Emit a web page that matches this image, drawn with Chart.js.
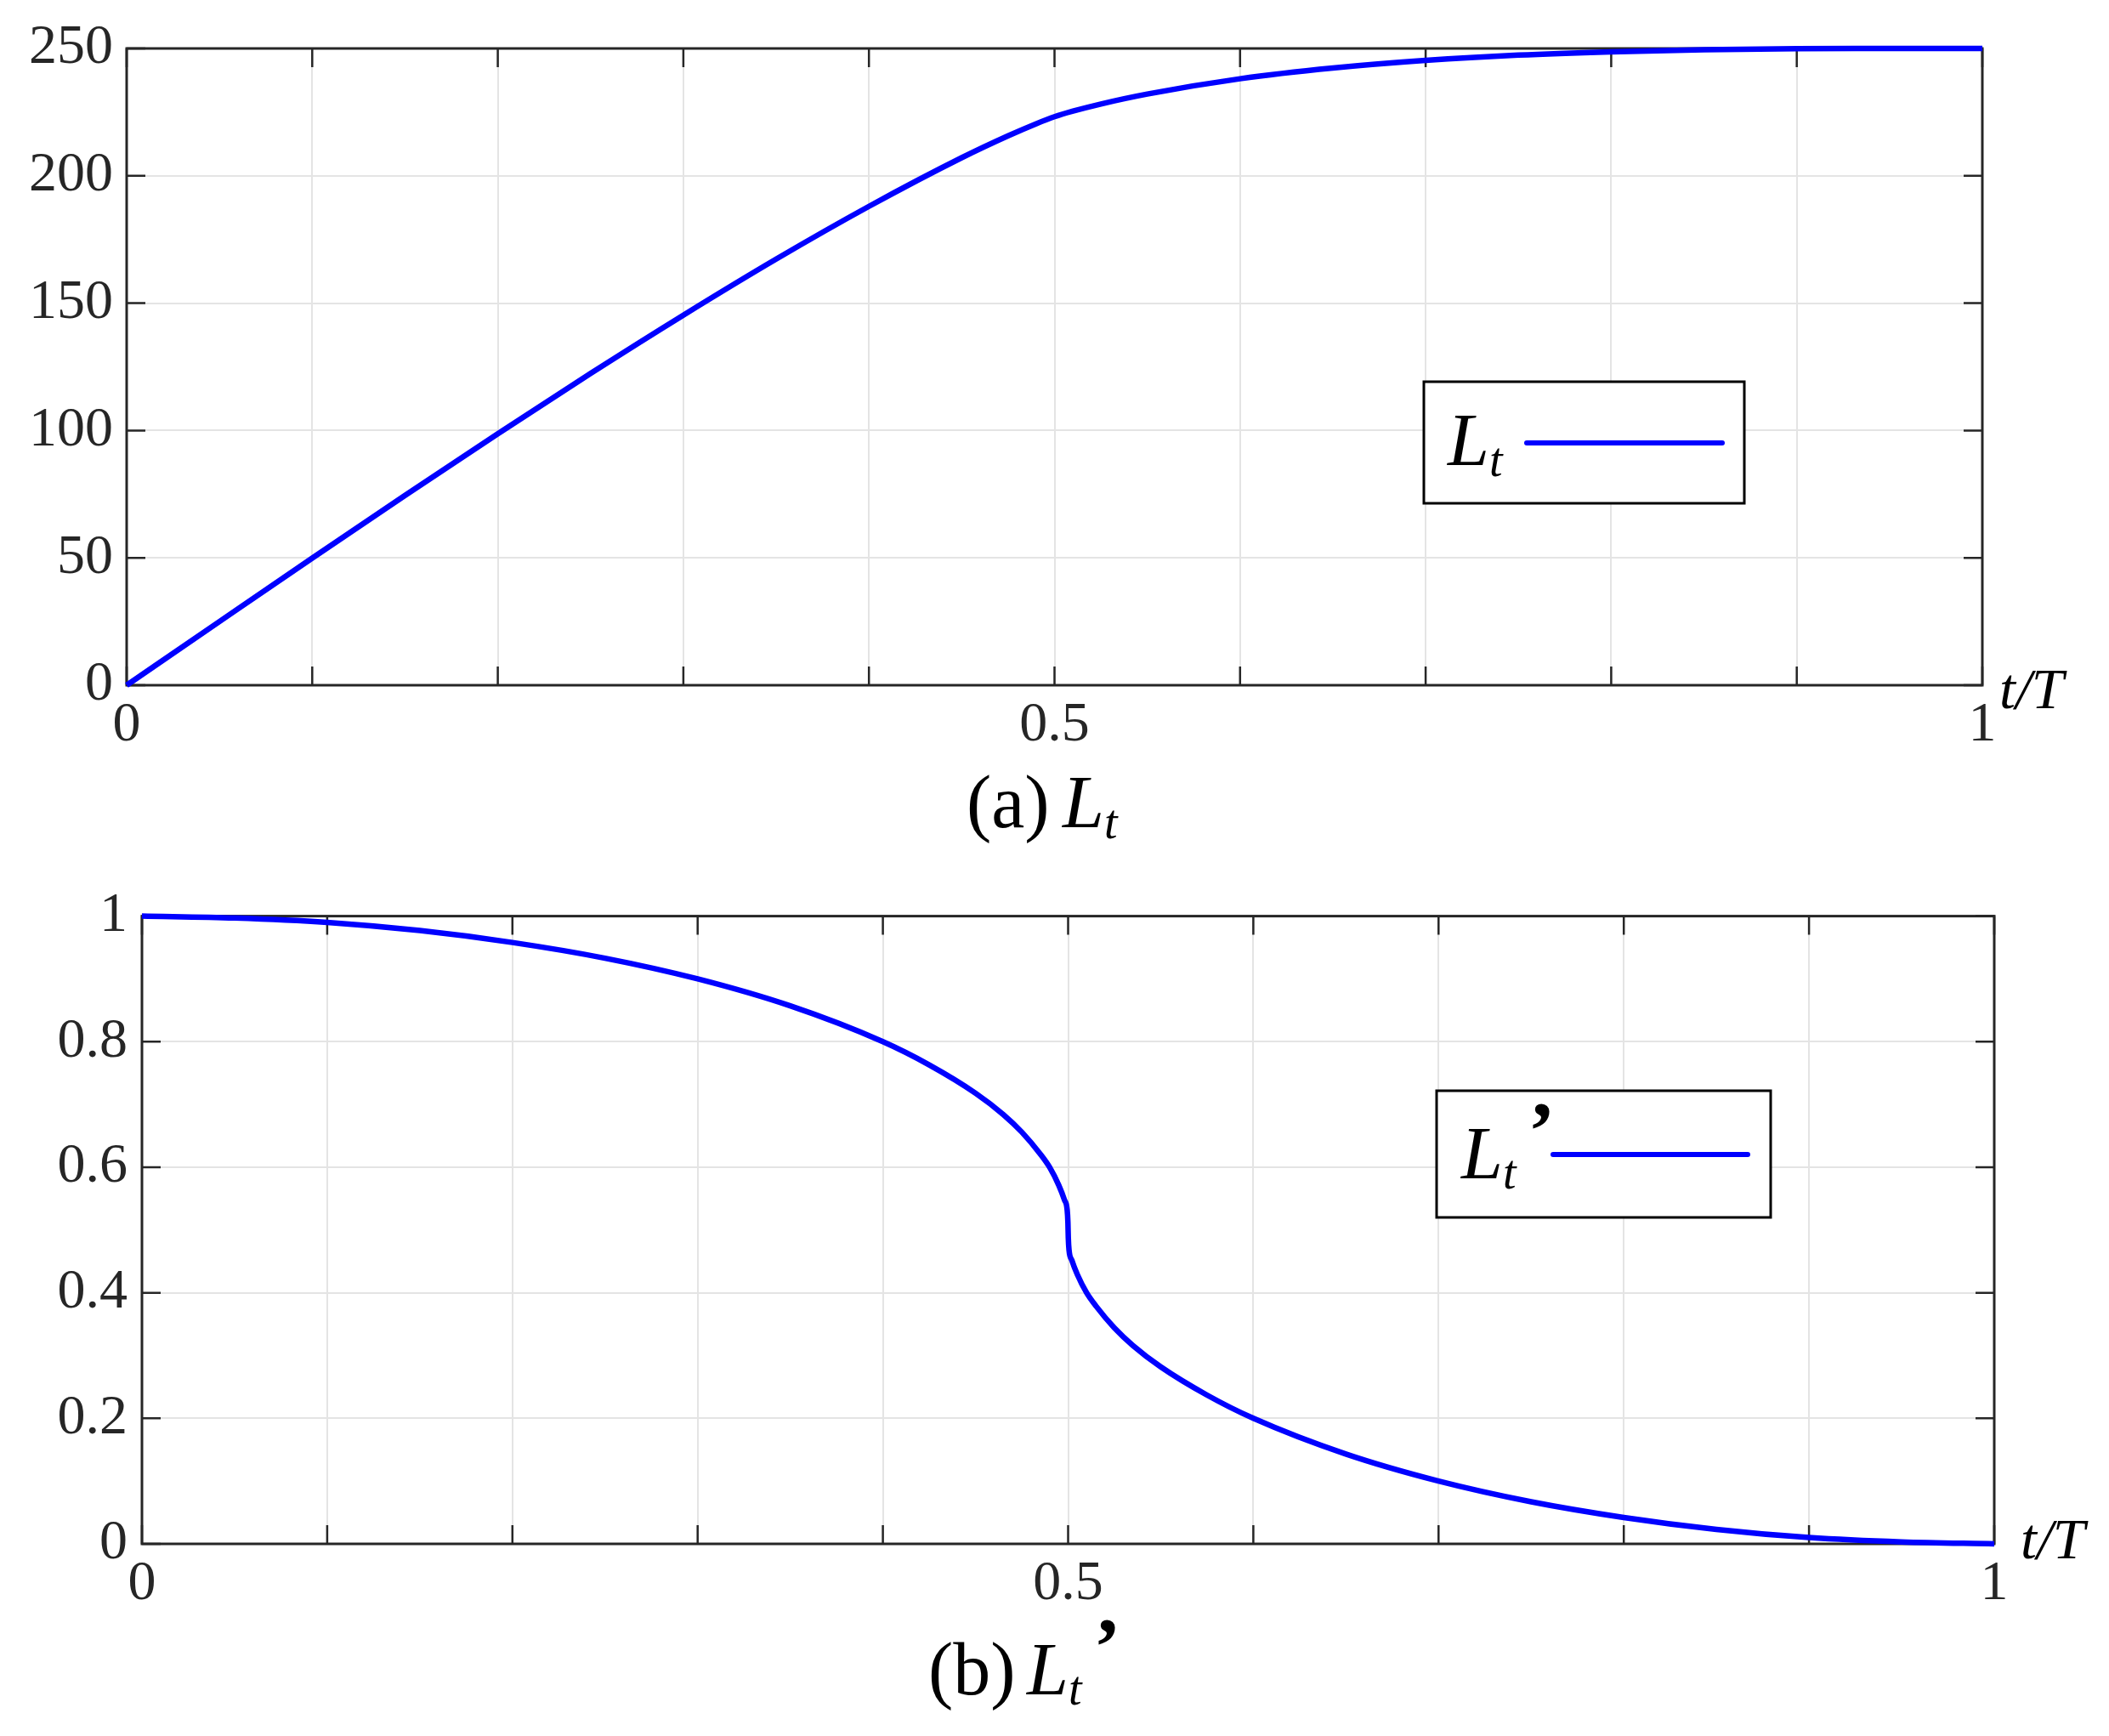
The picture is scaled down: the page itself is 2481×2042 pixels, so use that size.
<!DOCTYPE html>
<html>
<head>
<meta charset="utf-8">
<script src="https://cdn.jsdelivr.net/npm/chart.js@4.4.0/dist/chart.umd.min.js"></script>
<style>
  html, body { margin: 0; padding: 0; background: #fff; }
  #wrap { position: relative; width: 2481px; height: 2042px; }
  canvas { position: absolute; left: 0; }
</style>
</head>
<body>
<div id="wrap">
  <canvas id="chartLt" width="2481" height="1021" style="top:0"></canvas>
  <canvas id="chartLtPrime" width="2481" height="1021" style="top:1021px"></canvas>
</div>
<script>
// (a) L_t against t/T
const tLt = [0, 0.05, 0.1, 0.15, 0.2, 0.25, 0.3, 0.35, 0.4, 0.45, 0.475, 0.49, 0.5, 0.51, 0.525, 0.55,
             0.6, 0.65, 0.7, 0.75, 0.8, 0.85, 0.9, 0.95, 1];
const ltValues = [0, 25, 49.9, 74.5, 98.7, 122.4, 145.3, 167.3, 188.0, 207.1, 215.7, 220.4, 223.2, 225.4, 228.2, 232.1,
                  238.1, 242.3, 245.3, 247.4, 248.7, 249.5, 249.9, 250, 250];

// (b) L_t' against t/T
const tLtPrime = [0, 0.05, 0.1, 0.15, 0.2, 0.25, 0.3, 0.35, 0.4, 0.425, 0.45, 0.465, 0.475, 0.485,
                  0.49, 0.495, 0.498, 0.4995, 0.4999, 0.5001, 0.5005, 0.502, 0.505, 0.51, 0.515, 0.525, 0.535,
                  0.55, 0.575, 0.6, 0.65, 0.7, 0.75, 0.8, 0.85, 0.9, 0.95, 1];
const ltPrimeValues = [1.000, 0.997, 0.990, 0.977, 0.958, 0.933, 0.900, 0.857, 0.800, 0.763, 0.718, 0.684, 0.656, 0.621,
                       0.600, 0.571, 0.548, 0.532, 0.512, 0.488, 0.468, 0.452, 0.429, 0.400, 0.379, 0.344, 0.316,
                       0.282, 0.237, 0.200, 0.143, 0.100, 0.067, 0.042, 0.023, 0.010, 0.003, 0.000];

const xTickLabels = ['0', '0.5', '1'];
const ltTickLabels = ['0', '50', '100', '150', '200', '250'];
const ltPrimeTickLabels = ['0', '0.2', '0.4', '0.6', '0.8', '1'];

const SERIF = '"Liberation Serif", "Times New Roman", serif';
const AXIS_COLOR = '#262626';
const GRID_COLOR = '#e4e4e4';
const LINE_COLOR = '#0000ff';

function drawRun(ctx, x, y, parts) {
    ctx.save();
    ctx.fillStyle = '#000';
    ctx.textBaseline = 'alphabetic';
    ctx.textAlign = 'left';
    let cx = x;
    parts.forEach(p => {
        if (p.gap) { cx += p.gap; return; }
        ctx.font = p.font;
        ctx.fillText(p.text, cx, y + (p.dy || 0));
        cx += ctx.measureText(p.text).width;
    });
    ctx.restore();
}

const bigItalic = 'italic 88px ' + SERIF;
const subItalic = 'italic 56px ' + SERIF;
const primeFont = 'bold 96px ' + SERIF;

// box, inward ticks, legend, axis name and caption in the MATLAB style
const matlabFrame = {
    id: 'matlabFrame',
    beforeDatasetsDraw(chart, args, opts) {
        const { ctx, chartArea: a } = chart;
        const xs = chart.scales.x, ys = chart.scales.y;
        const len = 22;
        ctx.save();
        ctx.strokeStyle = AXIS_COLOR;
        ctx.lineWidth = 2.5;
        ctx.beginPath();
        xs.ticks.forEach(t => {
            const px = xs.getPixelForValue(t.value);
            ctx.moveTo(px, a.bottom); ctx.lineTo(px, a.bottom - len);
            ctx.moveTo(px, a.top); ctx.lineTo(px, a.top + len);
        });
        ys.ticks.forEach(t => {
            const py = ys.getPixelForValue(t.value);
            ctx.moveTo(a.left, py); ctx.lineTo(a.left + len, py);
            ctx.moveTo(a.right, py); ctx.lineTo(a.right - len, py);
        });
        ctx.stroke();
        ctx.lineWidth = 3;
        ctx.strokeRect(a.left, a.top, a.right - a.left, a.bottom - a.top);
        ctx.restore();
    },
    afterDraw(chart, args, opts) {
        const ctx = chart.ctx;
        const lg = opts.legend;

        // legend box
        ctx.save();
        ctx.fillStyle = '#fff';
        ctx.fillRect(lg.box[0], lg.box[1], lg.box[2] - lg.box[0], lg.box[3] - lg.box[1]);
        ctx.strokeStyle = '#000';
        ctx.lineWidth = 3;
        ctx.strokeRect(lg.box[0], lg.box[1], lg.box[2] - lg.box[0], lg.box[3] - lg.box[1]);
        ctx.strokeStyle = LINE_COLOR;
        ctx.lineWidth = 6;
        ctx.lineCap = 'round';
        ctx.beginPath();
        ctx.moveTo(lg.line[0], lg.line[2]);
        ctx.lineTo(lg.line[1], lg.line[2]);
        ctx.stroke();
        ctx.restore();
        drawRun(ctx, lg.textX, lg.baseline, opts.symbol);

        // axis name
        drawRun(ctx, opts.axisName.x, opts.axisName.y, [{ text: 't/T', font: 'italic 68px ' + SERIF }]);

        // caption
        const cap = opts.caption;
        drawRun(ctx, cap.x, cap.y, [{ text: cap.tag, font: '88px ' + SERIF }]);
        drawRun(ctx, cap.symbolX, cap.y, opts.symbol);
    }
};

function makeChart(id, xs, ys, cfg) {
    const points = xs.map((x, i) => ({ x: x, y: ys[i] }));
    return new Chart(document.getElementById(id), {
        type: 'line',
        data: {
            datasets: [{
                label: cfg.label,
                data: points,
                borderColor: LINE_COLOR,
                borderWidth: 6.5,
                pointRadius: 0,
                cubicInterpolationMode: 'monotone',
                fill: false,
                borderJoinStyle: 'round',
                clip: 10
            }]
        },
        options: {
            responsive: false,
            animation: false,
            devicePixelRatio: 1,
            layout: { padding: cfg.padding },
            plugins: {
                legend: { display: false },
                tooltip: { enabled: false },
                matlabFrame: cfg.frame
            },
            scales: {
                x: {
                    type: 'linear',
                    min: 0,
                    max: 1,
                    ticks: {
                        stepSize: 0.1,
                        autoSkip: false,
                        maxRotation: 0,
                        padding: cfg.xPad,
                        color: AXIS_COLOR,
                        font: { family: SERIF, size: 66 },
                        callback: function(value) {
                            const s = String(Math.round(value * 10) / 10);
                            return xTickLabels.includes(s) ? s : '';
                        }
                    },
                    grid: { color: GRID_COLOR, lineWidth: 2, drawTicks: false },
                    border: { display: false },
                    afterFit: function(scale) { scale.height = cfg.xHeight; }
                },
                y: {
                    min: 0,
                    max: cfg.yMax,
                    ticks: {
                        stepSize: cfg.yStep,
                        autoSkip: false,
                        padding: cfg.yPad,
                        color: AXIS_COLOR,
                        font: { family: SERIF, size: 66 },
                        callback: function(value, index) { return cfg.yLabels[index]; }
                    },
                    grid: { color: GRID_COLOR, lineWidth: 2, drawTicks: false },
                    border: { display: false },
                    afterFit: function(scale) { scale.width = cfg.yWidth; }
                }
            }
        },
        plugins: [matlabFrame]
    });
}

makeChart('chartLt', tLt, ltValues, {
    label: 'Lt',
    padding: { top: 57, right: 149, left: 0, bottom: 0 },
    xHeight: 215, yWidth: 149, xPad: 8, yPad: 16,
    yMax: 250, yStep: 50, yLabels: ltTickLabels,
    frame: {
        symbol: [{ text: 'L', font: bigItalic }, { text: 't', font: subItalic, dy: 13 }],
        legend: { box: [1675, 449, 2052, 592], line: [1796, 2026, 521], textX: 1703, baseline: 547 },
        axisName: { x: 2352, y: 833 },
        caption: { tag: '(a)', x: 1137, symbolX: 1250, y: 973 }
    }
});

makeChart('chartLtPrime', tLtPrime, ltPrimeValues, {
    label: "Lt'",
    padding: { top: 47, right: 135, left: 0, bottom: 0 },
    xHeight: 226, yWidth: 167, xPad: 8, yPad: 17,
    yMax: 1, yStep: 0.2, yLabels: ltPrimeTickLabels,
    frame: {
        symbol: [{ text: 'L', font: bigItalic }, { text: 't', font: subItalic, dy: 12 },
                 { gap: 14 }, { text: '\u2019', font: primeFont, dy: -24 }],
        legend: { box: [1690, 262, 2083, 411], line: [1827, 2056, 337], textX: 1719, baseline: 365 },
        axisName: { x: 2377, y: 812 },
        caption: { tag: '(b)', x: 1092, symbolX: 1208, y: 972 }
    }
});
</script>
</body>
</html>
